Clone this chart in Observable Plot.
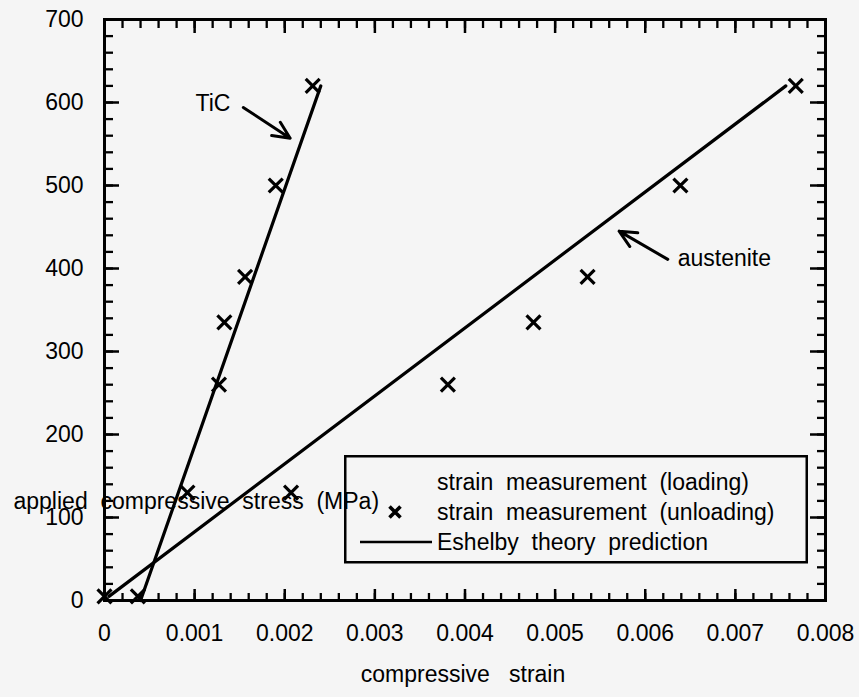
<!DOCTYPE html>
<html>
<head>
<meta charset="utf-8">
<script src="https://cdn.jsdelivr.net/npm/d3@7"></script>
<script src="https://cdn.jsdelivr.net/npm/@observablehq/plot@0.6"></script>
<style>
  html, body { margin: 0; padding: 0; background: #f5f5f5; }
  #wrap { position: relative; width: 859px; height: 697px; background: #f5f5f5; }
  #wrap svg { position: absolute; left: 0; top: 0; }
  text { font-family: "Liberation Sans", Arial, Helvetica, sans-serif; }
</style>
</head>
<body>
<div id="wrap"></div>
<script>
// ---- tick values and labels ----
const xTicks = [0, 0.001, 0.002, 0.003, 0.004, 0.005, 0.006, 0.007, 0.008];
const xTickLabels = ["0", "0.001", "0.002", "0.003", "0.004", "0.005", "0.006", "0.007", "0.008"];
const yTicks = [0, 100, 200, 300, 400, 500, 600, 700];
const yTickLabels = ["0", "100", "200", "300", "400", "500", "600", "700"];
const xMinorTicks = d3.range(0, 0.00801, 0.0002);
const yMinorTicks = d3.range(0, 701, 20);

// ---- measured points (strain, stress MPa) ----
const ticStrain = [0.00037, 0.00092, 0.00127, 0.00133, 0.00156, 0.0019, 0.00231];
const ticStress = [5, 130, 260, 335, 390, 500, 620];
const austStrain = [0, 0.00207, 0.00381, 0.00476, 0.00536, 0.00639, 0.00767];
const austStress = [5, 130, 260, 335, 390, 500, 620];

// ---- Eshelby theory prediction lines ----
const ticFitStrain = [0.0004, 0.0024];
const ticFitStress = [0, 620];
const austFitStrain = [0.00005, 0.00756];
const austFitStress = [5, 620];

// ---- annotations ----
const annText = ["TiC", "austenite"];
const annX = [0.00101, 0.00636];
const annY = [599, 412];
const arrowX1 = [0.00154, 0.00625];
const arrowY1 = [594, 411];
const arrowX2 = [0.00206, 0.00571];
const arrowY2 = [557, 445];

// ---- texts ----
const xLabel = "compressive\u00a0\u00a0\u00a0strain";
const yLabel = "applied\u00a0\u00a0compressive\u00a0\u00a0stress\u00a0\u00a0(MPa)";
const legendLabels = [
  "strain\u00a0\u00a0measurement\u00a0\u00a0(loading)",
  "strain\u00a0\u00a0measurement\u00a0\u00a0(unloading)",
  "Eshelby\u00a0\u00a0theory\u00a0\u00a0prediction"
];
const legendSymbols = ["none", "times", "line"];

const W = 859, H = 697, mL = 104, mR = 34, mT = 19, mB = 97;
const frameH = H - mT - mB;
const frameW = W - mL - mR;

const pts = (xs, ys) => xs.map((x, i) => ({x, y: ys[i]}));
const idx = (arr) => arr.map((_, i) => i);

const chart = Plot.plot({
  width: W, height: H,
  marginLeft: mL, marginRight: mR, marginTop: mT, marginBottom: mB,
  x: {domain: [0, 0.008]},
  y: {domain: [0, 700]},
  style: {background: "transparent", fontFamily: "'Liberation Sans', Arial, sans-serif", fontSize: "23px", color: "#000"},
  marks: [
    // minor ticks (inward)
    Plot.tickX(xMinorTicks, {x: d => d, insetTop: frameH - 7, stroke: "#000", strokeWidth: 2.3}),
    Plot.tickX(xMinorTicks, {x: d => d, insetBottom: frameH - 9, stroke: "#000", strokeWidth: 2.3}),
    Plot.tickY(yMinorTicks, {y: d => d, insetRight: frameW - 9, stroke: "#000", strokeWidth: 2.3}),
    Plot.tickY(yMinorTicks, {y: d => d, insetLeft: frameW - 8, stroke: "#000", strokeWidth: 2.3}),
    // major ticks (inward)
    Plot.tickX(xTicks, {x: d => d, insetTop: frameH - 11, stroke: "#000", strokeWidth: 2.5}),
    Plot.tickX(xTicks, {x: d => d, insetBottom: frameH - 14, stroke: "#000", strokeWidth: 2.5}),
    Plot.tickY(yTicks, {y: d => d, insetRight: frameW - 15, stroke: "#000", strokeWidth: 2.5}),
    Plot.tickY(yTicks, {y: d => d, insetLeft: frameW - 15, stroke: "#000", strokeWidth: 2.5}),
    Plot.frame({stroke: "#000", strokeWidth: 3}),
    // tick labels
    Plot.axisX(xTicks, {tickSize: 0, tickPadding: 24, tickFormat: d => xTickLabels[xTicks.indexOf(d)], label: null, fontSize: 23}),
    Plot.axisY(yTicks, {tickSize: 0, tickPadding: 21, tickFormat: d => yTickLabels[yTicks.indexOf(d)], label: null, fontSize: 23}),
    // axis titles
    Plot.text([xLabel], {text: d => d, frameAnchor: "bottom", dx: -2, dy: 81.6, fontSize: 23, fill: "#000"}),
    Plot.text([yLabel], {text: d => d, frameAnchor: "bottom-left", textAnchor: "start", dx: -91, dy: -91.4, fontSize: 23, fill: "#000"}),
    // theory lines
    Plot.line(pts(ticFitStrain, ticFitStress), {x: "x", y: "y", stroke: "#000", strokeWidth: 3.2}),
    Plot.line(pts(austFitStrain, austFitStress), {x: "x", y: "y", stroke: "#000", strokeWidth: 3.2}),
    // measurements
    Plot.dot(pts(ticStrain, ticStress), {x: "x", y: "y", symbol: "times", r: 6.4, stroke: "#000", strokeWidth: 3.2}),
    Plot.dot(pts(austStrain, austStress), {x: "x", y: "y", symbol: "times", r: 6.4, stroke: "#000", strokeWidth: 3.2}),
    // annotations
    Plot.text(idx(annText), {x: i => annX[i], y: i => annY[i], text: i => annText[i], textAnchor: "start", fontSize: 23, fill: "#000"}),
    Plot.arrow(idx(arrowX1), {x1: i => arrowX1[i], y1: i => arrowY1[i], x2: i => arrowX2[i], y2: i => arrowY2[i], stroke: "#000", strokeWidth: 3, headLength: 16, headAngle: 50})
  ]
});

const wrap = document.getElementById("wrap");
wrap.appendChild(chart);

// ---- legend overlay ----
const leg = d3.select(wrap).append("svg")
  .attr("width", W).attr("height", H)
  .style("pointer-events", "none");
leg.append("rect")
  .attr("x", 345.25).attr("y", 456.25).attr("width", 461.5).attr("height", 106)
  .attr("fill", "none").attr("stroke", "#000").attr("stroke-width", 2.5);
const rowBase = [490, 520, 550];
legendLabels.forEach((lab, i) => {
  leg.append("text").attr("x", 437).attr("y", rowBase[i])
    .attr("font-size", 23).attr("fill", "#000").text(lab);
  const cy = rowBase[i] - 8;
  if (legendSymbols[i] === "times") {
    const s = 5.5, cx = 395;
    leg.append("path")
      .attr("d", `M${cx - s},${cy - s}L${cx + s},${cy + s}M${cx - s},${cy + s}L${cx + s},${cy - s}`)
      .attr("stroke", "#000").attr("stroke-width", 3.6).attr("fill", "none");
  } else if (legendSymbols[i] === "line") {
    leg.append("line").attr("x1", 360).attr("x2", 432).attr("y1", cy).attr("y2", cy)
      .attr("stroke", "#000").attr("stroke-width", 2.5);
  }
});
</script>
</body>
</html>
